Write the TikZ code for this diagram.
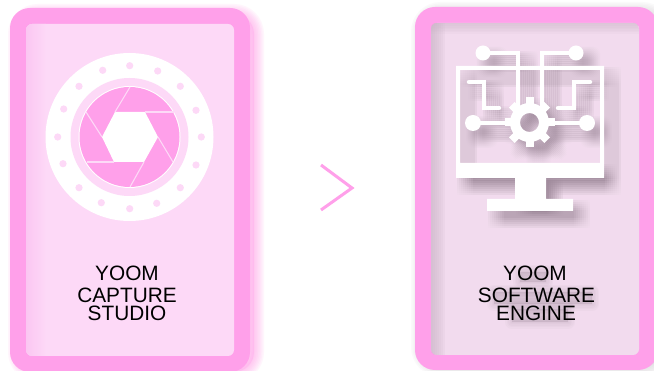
\documentclass[tikz,border=0pt]{standalone}
\usepackage{fontspec}
\setmainfont{Liberation Sans}
\definecolor{cardpink}{HTML}{FFA0EA}
\definecolor{innerpink}{HTML}{FDD9F7}
\definecolor{innermauve}{HTML}{F2DBEE}
\definecolor{stripe}{HTML}{FBC6F2}
\definecolor{shademauve}{HTML}{C9B3C6}
\definecolor{glow}{HTML}{FFA0EA}
\definecolor{dropgrey}{HTML}{6F5C6C}
\tikzset{
  lbl/.style={inner sep=0pt,font=\fontsize{20.8}{20.8}\selectfont,text=black},
  wire/.style={line width=4.5pt,line cap=round,line join=miter,draw=#1,fill=none},
  blade/.style={draw=innerpink,line width=1.1pt},
  ring dot/.style={fill=innerpink,draw=none}
}
\newcommand{\softrect}[6]{% x1 y1 x2 y2 radius colour
  \foreach \w in {2,5,...,20}{
    \draw[#6,line width=\w pt,opacity=.10,rounded corners=#5pt] (#1,#2) rectangle (#3,#4);
  }
  \fill[#6,opacity=.35,rounded corners=#5pt] (#1,#2) rectangle (#3,#4);
}
\newcommand{\softblob}[4]{% x1 y1 x2 y2
  \foreach \w in {2,5,...,14}{
    \draw[dropgrey,line width=\w pt,opacity=.03,line join=round] (#1,#2) rectangle (#3,#4);
  }
  \fill[dropgrey,opacity=.16] (#1,#2) rectangle (#3,#4);
}
\newcommand{\icon}[1]{%
  \fill[#1] (456,66) -- (604,66) -- (604,178) -- (546,178) -- (546,199) -- (573,199) -- (573,211)
     -- (487,211) -- (487,199) -- (515,199) -- (515,178) -- (456,178) -- cycle
     (460,70) -- (460,163) -- (600,163) -- (600,70) -- cycle;
  \fill[#1] (483,53) circle (7.5) (576,53) circle (7.5) (473,123) circle (8) (587,123) circle (8);
  \draw[wire=#1,line cap=butt] (483,53) -- (518,53) -- (518,108);
  \draw[wire=#1,line cap=butt] (576,53) -- (542,53) -- (542,108);
  \draw[wire=#1,line cap=butt] (473,123) -- (510,123);
  \draw[wire=#1,line cap=butt] (550,123) -- (587,123);
  \draw[wire=#1,line cap=round] (469,82) -- (484,82) -- (484,108) -- (499,108);
  \draw[wire=#1,line cap=round] (590,82) -- (574,82) -- (574,108) -- (558,108);
  \fill[#1,even odd rule] (529.5,122.5) circle (19.5) (529.5,122.5) circle (9.5);
  \foreach \a in {0,45,...,315}{
    \fill[#1,rotate around={\a:(529.5,122.5)}] (525.5,97.5) rectangle (533.5,106);
  }
}
\begin{document}
\begin{tikzpicture}[x=1pt,y=-1pt]
\useasboundingbox (0,0) rectangle (654,371);
\fill[white] (0,0) rectangle (654,371);
% ---------- left card
\softrect{18}{14}{254}{372}{20}{glow}
\fill[cardpink,rounded corners=20pt] (10,8) rectangle (250,372);
\fill[innerpink,rounded corners=6pt] (26,24) rectangle (234,356);
\begin{scope}
  \clip[rounded corners=6pt] (26,24) rectangle (234,356);
  \shade[left color=stripe,right color=innerpink] (26,24) rectangle (46,356);
\end{scope}
% lens
\fill[white] (129.5,137) circle (84);
\fill[innerpink] (129.5,137) circle (59);
\fill[white] (129.5,137) circle (51);
\fill[cardpink] (129.5,137) circle (50);
\fill[white] (115,112) -- (145,112) -- (158,137) -- (144,162) -- (114,162) -- (102,137) -- cycle;
\draw[blade] (115,112) -- (130,87);
\draw[blade] (145,112) -- (174,112);
\draw[blade] (158,137) -- (173,162);
\draw[blade] (144,162) -- (130,187);
\draw[blade] (114,162) -- (87,162);
\draw[blade] (102,137) -- (86,112);
\foreach \p in {(129.7,65.7),(157.7,71),(180.3,86.3),(196,110.3),(201.3,137),(196,165),(180.3,187.7),(156.7,203.3),(129.7,208.7),(101.3,202.7),(79,187.7),(63,163.7),(57.7,137),(63.7,109),(79,86.3),(102.7,70.3)}{
  \fill[ring dot] \p circle (3.6);
}
\node[lbl] (yooma) at (127,273) {YOOM};
\node[lbl] (capa) at (127,295) {CAPTURE};
\node[lbl] (studa) at (127,313) {STUDIO};
% ---------- chevron
\coordinate (cha) at (321,165);
\coordinate (chb) at (352,188);
\coordinate (chc) at (321,210);
\draw[cardpink,line width=3pt,miter limit=10] (cha) -- (chb) -- (chc);
% ---------- right card
\softrect{421}{12}{662}{367}{20}{dropgrey!30}
\fill[cardpink,rounded corners=20pt] (415,7) rectangle (658,370);
\fill[innermauve,rounded corners=6pt] (431,23) rectangle (639,355);
\begin{scope}
  \clip[rounded corners=6pt] (431,23) rectangle (639,355);
  \foreach \i in {0,...,6}{
    \fill[shademauve,opacity=.13] (431,23) rectangle ({433+2*\i},355);
    \fill[shademauve,opacity=.09] (431,23) rectangle (639,{24.5+1.6*\i});
  }
\end{scope}
% icon shadow
\foreach \dx in {1,3,...,17}{
  \foreach \dy in {1,3,...,17}{
    \begin{scope}[shift={(\dx,\dy)},transparency group,opacity=.006]
      \icon{dropgrey}
    \end{scope}
  }
}
\icon{white}
% soft shadow behind the text
\softblob{520}{272}{546}{282}
\softblob{494}{292}{592}{304}
\softblob{512}{309}{568}{322}
\node[lbl] (yoomb) at (535,273) {YOOM};
\node[lbl] (softb) at (536.5,295) {SOFTWARE};
\node[lbl] (engb) at (536,313) {ENGINE};
\end{tikzpicture}
\end{document}
